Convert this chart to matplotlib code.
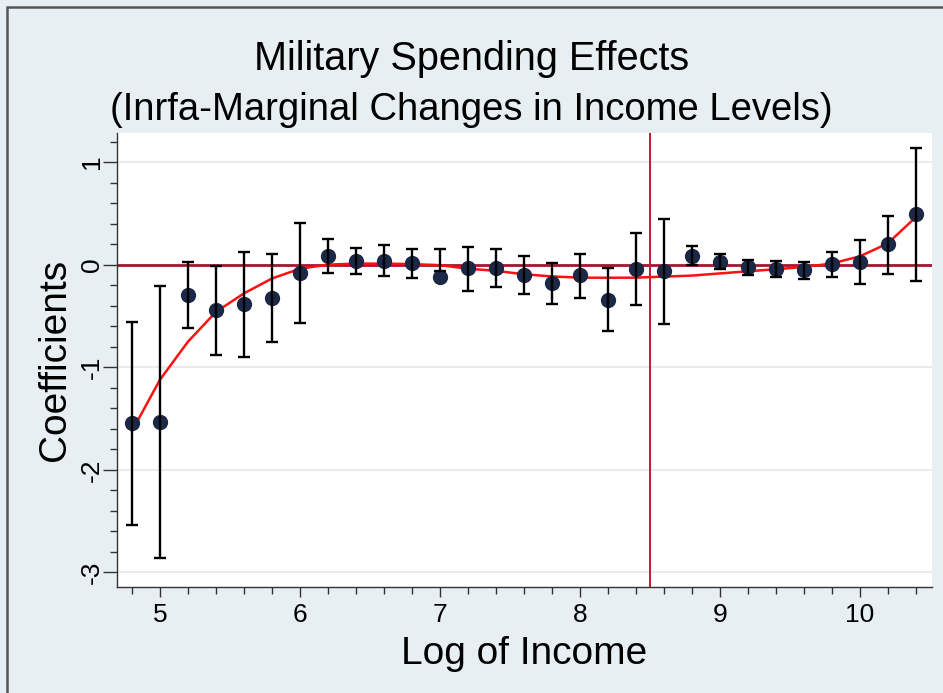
import matplotlib
matplotlib.use("Agg")
import matplotlib.pyplot as plt
from matplotlib.patches import Rectangle
from matplotlib.ticker import MultipleLocator, FixedLocator

# ---- data ----
log_income = [4.8, 5.0, 5.2, 5.4, 5.6, 5.8, 6.0, 6.2, 6.4, 6.6, 6.8, 7.0, 7.2, 7.4, 7.6,
              7.8, 8.0, 8.2, 8.4, 8.6, 8.8, 9.0, 9.2, 9.4, 9.6, 9.8, 10.0, 10.2, 10.4]
coef = [-1.547, -1.534, -0.296, -0.445, -0.383, -0.322, -0.078, 0.085, 0.036, 0.036,
        0.013, -0.120, -0.036, -0.036, -0.097, -0.182, -0.097, -0.344, -0.045, -0.065,
        0.088, 0.029, -0.026, -0.045, -0.052, 0.010, 0.026, 0.198, 0.490]
ci_upper = [-0.556, -0.208, 0.023, -0.016, 0.123, 0.101, 0.403, 0.253, 0.159, 0.192,
            0.149, 0.149, 0.172, 0.149, 0.088, 0.013, 0.107, -0.036, 0.309, 0.448,
            0.182, 0.107, 0.049, 0.036, 0.026, 0.123, 0.237, 0.474, 1.134]
ci_lower = [-2.541, -2.859, -0.614, -0.884, -0.897, -0.754, -0.572, -0.085, -0.091, -0.110,
            -0.133, -0.058, -0.253, -0.221, -0.286, -0.383, -0.322, -0.650, -0.393, -0.578,
            -0.003, -0.045, -0.104, -0.120, -0.136, -0.117, -0.185, -0.088, -0.156]
fit = [-1.62, -1.12, -0.75, -0.46, -0.28, -0.135, -0.04, 0.0, 0.01, 0.01,
       0.005, -0.005, -0.04, -0.06, -0.094, -0.115, -0.127, -0.128, -0.127, -0.117,
       -0.107, -0.086, -0.065, -0.045, -0.023, 0.01, 0.08, 0.205, 0.46]
threshold = 8.5

title = "Military Spending Effects"
subtitle = "(Inrfa-Marginal Changes in Income Levels)"
xlabel = "Log of Income"
ylabel = "Coefficients"
xticks = [5, 6, 7, 8, 9, 10]
yticks = [-3, -2, -1, 0, 1]

# ---- style ----
FONT = ["Liberation Sans Narrow", "Liberation Sans", "DejaVu Sans"]
plt.rcParams["font.family"] = FONT
bg = "#E7EFF2"

fig = plt.figure(figsize=(9.43, 6.93), dpi=100, facecolor=bg)
ax = fig.add_axes([116.7 / 943, 1 - 587.3 / 693, (932.3 - 116.7) / 943, (587.3 - 133.3) / 693])
ax.set_facecolor("white")

# outer frame (cropped on right/bottom)
fig.patches.append(Rectangle((7.5 / 943, -0.05), 1.2, 1 - 6.5 / 693 + 0.05,
                             transform=fig.transFigure, fill=False,
                             edgecolor="#555555", linewidth=1.8, zorder=0))

ax.set_xlim(4.69, 10.52)
ax.set_ylim(-3.145, 1.28)

# gridlines
for gy in [1, -1, -2, -3]:
    ax.axhline(gy, color="#EBEBEB", linewidth=1.5, zorder=0)

ax.axhline(0, color="#A5152F", linewidth=2.0, zorder=1)
ax.axvline(threshold, color="#CC1236", linewidth=1.4, zorder=1)

ax.plot(log_income, fit, color="#FF1010", linewidth=1.8, zorder=2)
ax.plot(log_income, coef, linestyle="none", marker="o", markersize=10,
        color="#1B2846", zorder=3)
ax.vlines(log_income, ci_lower, ci_upper, color="black", linewidth=1.7, zorder=4)
ax.plot(log_income, ci_lower, linestyle="none", marker="_", markersize=9,
        markeredgewidth=1.7, color="black", zorder=4)
ax.plot(log_income, ci_upper, linestyle="none", marker="_", markersize=9,
        markeredgewidth=1.7, color="black", zorder=4)

# spines
for s in ["top", "right"]:
    ax.spines[s].set_visible(False)
for s in ["left", "bottom"]:
    ax.spines[s].set_color("#333333")
    ax.spines[s].set_linewidth(1.0)

ax.xaxis.set_major_locator(FixedLocator(xticks))
ax.xaxis.set_minor_locator(MultipleLocator(0.2))
ax.yaxis.set_major_locator(FixedLocator(yticks))
ax.yaxis.set_minor_locator(MultipleLocator(0.2))
ax.tick_params(axis="x", which="major", length=7, width=1.0, color="#333333",
               labelsize=19, pad=4)
ax.tick_params(axis="x", which="minor", length=5, width=1.0, color="#333333")
ax.tick_params(axis="y", which="major", length=10, width=1.0, color="#333333",
               labelsize=19, pad=-1)
ax.tick_params(axis="y", which="minor", length=5, width=1.0, color="#333333")
ax.set_xticklabels([str(t) for t in xticks])
ax.set_yticklabels([str(t) for t in yticks], rotation=90, va="center")

ax.set_xlabel(xlabel, fontsize=28, labelpad=6.5)
ax.set_ylabel(ylabel, fontsize=28, labelpad=5)

fig.text(0.5, 1 - 59 / 693, title, ha="center", va="center", fontsize=28.5)
fig.text(0.5, 1 - 110 / 693, subtitle, ha="center", va="center", fontsize=27.5)

fig.savefig("out.png", dpi=100, facecolor=bg)
